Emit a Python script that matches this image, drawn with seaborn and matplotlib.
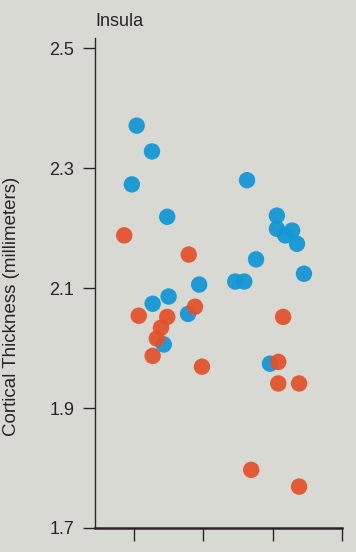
import matplotlib
matplotlib.use("Agg")
import matplotlib.pyplot as plt
import seaborn as sns
import pandas as pd

# Meditators (blue) and controls (orange): age in years vs insula thickness
med_age = [25.4, 27.6, 24.7, 41.3, 29.8, 45.6, 45.6, 47.8, 46.8, 48.5,
           42.6, 49.5, 39.6, 40.9, 34.4, 30.0, 27.7, 32.8, 29.3, 44.6]
med_thick = [2.371, 2.328, 2.273, 2.280, 2.219, 2.221, 2.199, 2.196, 2.188, 2.174,
             2.148, 2.124, 2.111, 2.111, 2.106, 2.086, 2.074, 2.057, 2.006, 1.974]
ctl_age = [23.6, 32.9, 33.8, 25.7, 29.8, 28.9, 28.3, 27.7, 34.8, 46.5,
           45.8, 45.8, 48.8, 41.9, 48.8]
ctl_thick = [2.188, 2.156, 2.069, 2.054, 2.052, 2.034, 2.016, 1.987, 1.969, 2.052,
             1.977, 1.941, 1.941, 1.797, 1.769]

y_ticks = [1.7, 1.9, 2.1, 2.3, 2.5]
x_ticks = [25, 35, 45, 55]

df = pd.DataFrame({
    "age": med_age + ctl_age,
    "thickness": med_thick + ctl_thick,
    "group": ["Meditators"] * len(med_age) + ["Controls"] * len(ctl_age),
})

sns.set_style("white")
plt.rcParams["font.family"] = ["Liberation Sans", "DejaVu Sans"]

paper = "#d9d9d4"
ink = "#2b2427"

fig = plt.figure(figsize=(3.56, 5.52), dpi=100, facecolor=paper)
ax = fig.add_axes([0.267, 0.0435, 0.694, 0.8875])
ax.set_facecolor(paper)

sns.scatterplot(data=df, x="age", y="thickness", hue="group",
                palette={"Meditators": "#1196d4", "Controls": "#e4502a"},
                s=140, linewidth=0, alpha=0.93, legend=False, ax=ax)

ax.set_xlim(19.4, 55)
ax.set_ylim(1.7, 2.517)
ax.set_yticks(y_ticks)
ax.set_yticklabels([f"{t:.1f}" for t in y_ticks])
ax.set_xticks(x_ticks)
ax.set_xticklabels([])

for side in ("top", "right"):
    ax.spines[side].set_visible(False)
ax.spines["left"].set_color(ink)
ax.spines["left"].set_linewidth(1.0)
ax.spines["bottom"].set_color(ink)
ax.spines["bottom"].set_linewidth(1.8)

ax.tick_params(axis="y", direction="out", length=9, width=1.0, color=ink,
               labelsize=13, labelcolor=ink, pad=6, left=True)
ax.tick_params(axis="x", direction="out", length=9.5, width=1.0, color=ink,
               bottom=True)

ax.set_xlabel("")
ax.set_ylabel("Cortical Thickness (millimeters)", fontsize=13.5, color=ink)
ax.yaxis.set_label_coords(-0.304, 0.453)
ax.set_title("Insula", loc="left", fontsize=13, color=ink, pad=9)

fig.savefig("out.png", dpi=100, facecolor=paper)
